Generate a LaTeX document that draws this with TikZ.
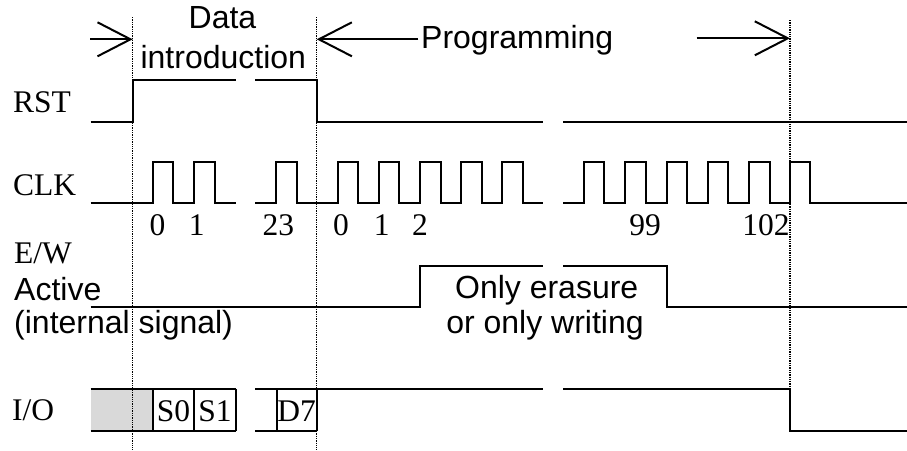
\documentclass[tikz,border=0pt]{standalone}
\usepackage{fontspec}
\setmainfont{Liberation Serif}
\newfontfamily\arialf{Liberation Sans}
\usetikzlibrary{arrows.meta}
\begin{document}
\begin{tikzpicture}[x=1pt,y=-1pt,
  sig/.style={line width=2.1pt,line join=miter},
  guide/.style={line width=1.3pt,densely dotted},
  arr/.style={line width=2pt,-{Straight Barb[length=33pt,width=34pt]}},
  serif/.style={inner sep=0pt,font=\fontsize{31.5}{35}\selectfont},
  sans/.style={inner sep=0pt,font=\arialf\fontsize{32}{35}\selectfont},
  busfill/.style={fill=black!15,draw=none}]
\useasboundingbox (0,0) rectangle (907,450);

% guides
\coordinate (g1t) at (132.7,17);  \coordinate (g1b) at (132.7,450);
\coordinate (g2t) at (316.7,17);  \coordinate (g2b) at (316.7,450);
\coordinate (g3t) at (790,20);    \coordinate (g3b) at (790,389);

% grey shading of I/O
\fill[busfill] (90.7,389) rectangle (152.7,430.7);

\draw[guide] (g1t) -- (g1b);
\draw[guide] (g2t) -- (g2b);
\draw[guide] (g3t) -- (g3b);

% arrows
\coordinate (a1s) at (90,39.3);    \coordinate (a1e) at (132.7,39.3);
\coordinate (a2s) at (418.3,39.3); \coordinate (a2e) at (316.7,39.3);
\coordinate (a3s) at (696.7,38.3); \coordinate (a3e) at (790,38.3);
\draw[arr] (a1s) -- (a1e);
\draw[arr] (a2s) -- (a2e);
\draw[arr] (a3s) -- (a3e);

% titles
\node[sans,anchor=base] (tdata) at (222.5,28.3) {Data};
\node[sans,anchor=base] (tintro) at (223.3,68.3) {introduction};
\node[sans,anchor=base west] (tprog) at (421,48.3) {Programming};

% signal names
\node[serif,anchor=base west] (lrst) at (13,112.3) {RST};
\node[serif,anchor=base west] (lclk) at (13,195) {CLK};
\node[serif,anchor=base west] (lew) at (14,263.3) {E/W};
\node[sans,anchor=base west] (lact) at (14,300) {Active};
\node[sans,anchor=base west] (lint) at (14,333.3) {(internal signal)};
\node[serif,anchor=base west] (lio) at (12,420) {I/O};

% RST
\draw[sig] (90.7,121.7) -- (132.7,121.7) -- (132.7,80) -- (236,80);
\draw[sig] (255,80) -- (316.7,80) -- (316.7,121.7) -- (543.3,121.7);
\draw[sig] (563.3,121.7) -- (907,121.7);

% CLK
\def\lo{203.3}\def\hi{162.3}
\draw[sig] (90.7,\lo)
  -- (153.3,\lo) -- (153.3,\hi) -- (173.3,\hi) -- (173.3,\lo)
  -- (194.3,\lo) -- (194.3,\hi) -- (215,\hi) -- (215,\lo)
  -- (236,\lo);
\draw[sig] (255,\lo)
  -- (276,\lo) -- (276,\hi) -- (296.7,\hi) -- (296.7,\lo)
  -- (337.7,\lo) -- (337.7,\hi) -- (358.3,\hi) -- (358.3,\lo)
  -- (379,\lo) -- (379,\hi) -- (399.3,\hi) -- (399.3,\lo)
  -- (420,\lo) -- (420,\hi) -- (440.7,\hi) -- (440.7,\lo)
  -- (461,\lo) -- (461,\hi) -- (481.7,\hi) -- (481.7,\lo)
  -- (502.3,\lo) -- (502.3,\hi) -- (522.7,\hi) -- (522.7,\lo)
  -- (543.3,\lo);
\draw[sig] (563.3,\lo)
  -- (584,\lo) -- (584,\hi) -- (604.3,\hi) -- (604.3,\lo)
  -- (625,\lo) -- (625,\hi) -- (646,\hi) -- (646,\lo)
  -- (666.7,\lo) -- (666.7,\hi) -- (687.3,\hi) -- (687.3,\lo)
  -- (707.7,\lo) -- (707.7,\hi) -- (728.3,\hi) -- (728.3,\lo)
  -- (749,\lo) -- (749,\hi) -- (770,\hi) -- (770,\lo)
  -- (790,\lo) -- (790,\hi) -- (810,\hi) -- (810,\lo)
  -- (907,\lo);

% clock numbers
\node[serif,anchor=base] (n0a) at (157.5,235) {0};
\node[serif,anchor=base] (n1a) at (196.7,235) {1};
\node[serif,anchor=base] (n23) at (278.3,235) {23};
\node[serif,anchor=base] (n0b) at (341,235) {0};
\node[serif,anchor=base] (n1b) at (381.7,235) {1};
\node[serif,anchor=base] (n2b) at (420,235) {2};
\node[serif,anchor=base] (n99) at (645,235) {99};
\node[serif,anchor=base] (n102) at (766,235) {102};

% E/W active
\draw[sig] (90.7,307.3) -- (420,307.3) -- (420,265.7) -- (543.3,265.7);
\draw[sig] (563.3,265.7) -- (666.7,265.7) -- (666.7,307.3) -- (907,307.3);
\node[sans,anchor=base] (tonly) at (546.7,298.3) {Only erasure};
\node[sans,anchor=base] (tor) at (545,333.3) {or only writing};

% I/O
\draw[sig] (90.7,389) -- (236,389);
\draw[sig] (90.7,430.7) -- (236,430.7);
\draw[sig] (152.7,389) -- (152.7,430.7);
\draw[sig] (194.3,389) -- (194.3,430.7);
\draw[sig] (236,389) -- (236,430.7);
\draw[sig] (255,389) -- (543.3,389);
\draw[sig] (255,430.7) -- (316.7,430.7);
\draw[sig] (276.7,389) -- (276.7,430.7);
\draw[sig] (316.7,389) -- (316.7,430.7);
\draw[sig] (563.3,389) -- (790,389) -- (790,430.7) -- (907,430.7);
\node[serif,anchor=base] (ts0) at (173.5,421.7) {S0};
\node[serif,anchor=base] (ts1) at (215,421.7) {S1};
\node[serif,anchor=base] (td7) at (296.7,421.7) {D7};
\end{tikzpicture}
\end{document}
